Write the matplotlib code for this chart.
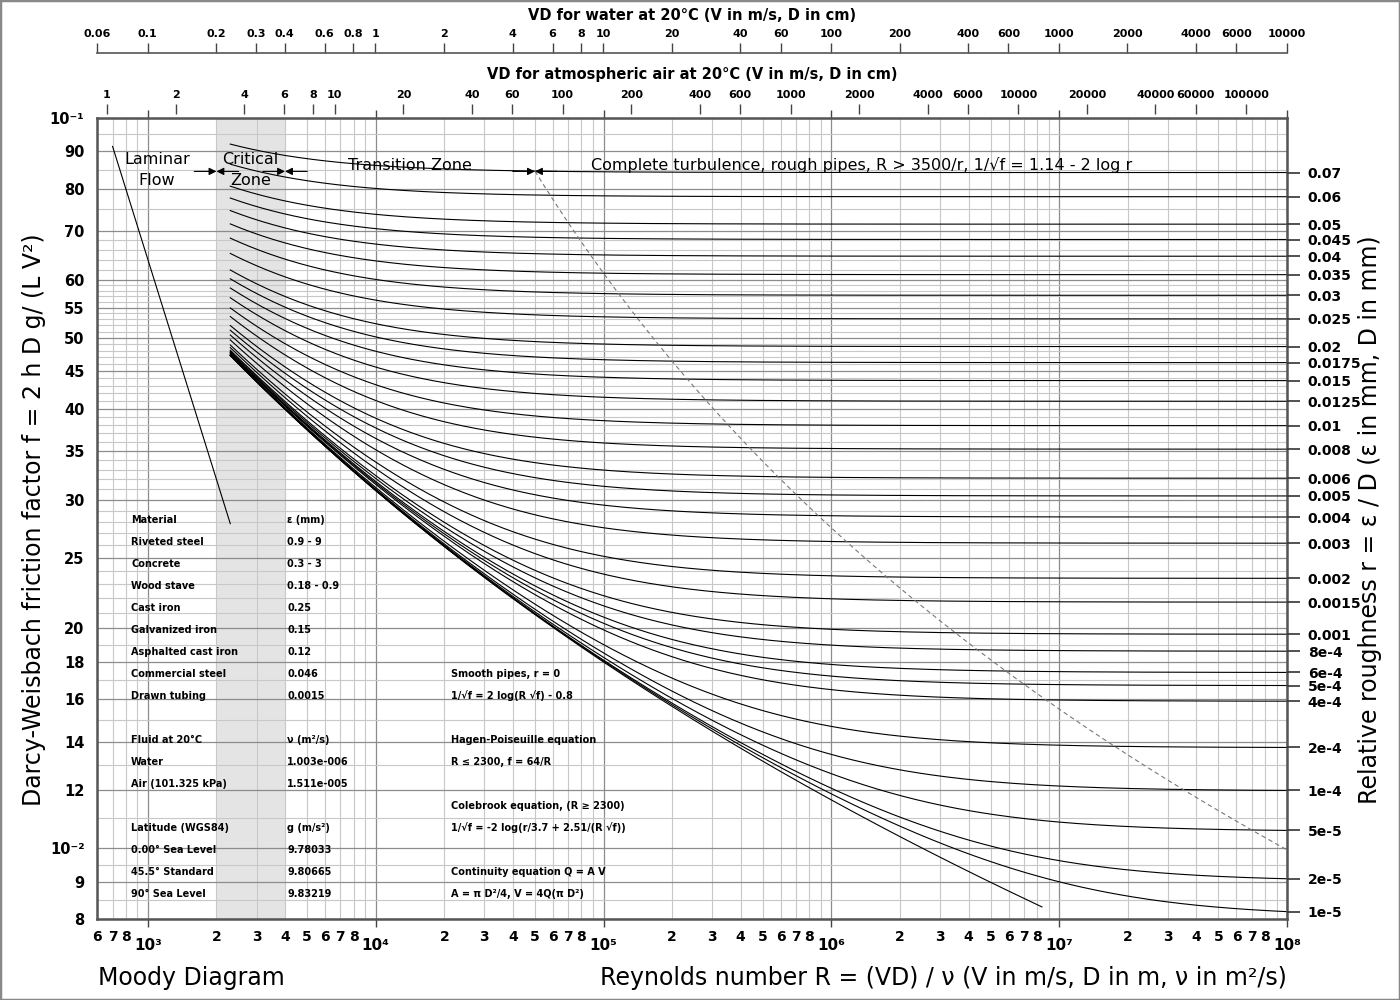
import numpy as np
import matplotlib
matplotlib.use('Agg')
import matplotlib.pyplot as plt
from matplotlib import ticker
from matplotlib.patches import Rectangle

# relative roughness r of the drawn curves, top to bottom
roughness = [0.07, 0.06, 0.05, 0.045, 0.04, 0.035, 0.03, 0.025, 0.02, 0.0175,
             0.015, 0.0125, 0.01, 0.008, 0.006, 0.005, 0.004, 0.003, 0.002,
             0.0015, 0.001, 8e-4, 6e-4, 5e-4, 4e-4, 2e-4, 1e-4, 5e-5, 2e-5, 1e-5]
roughness_labels = ['0.07', '0.06', '0.05', '0.045', '0.04', '0.035', '0.03',
                    '0.025', '0.02', '0.0175', '0.015', '0.0125', '0.01', '0.008',
                    '0.006', '0.005', '0.004', '0.003', '0.002', '0.0015', '0.001',
                    '8e-4', '6e-4', '5e-4', '4e-4', '2e-4', '1e-4', '5e-5', '2e-5', '1e-5']

R_min, R_max = 598, 1e8
laminar_R = [700, 2300]
turb_start = 2300
critical_zone = (2000, 4000)
smooth_end = 8.4e6
rough_limit = 3500          # complete turbulence for R > 3500/r
f_min, f_max = 0.008, 0.1

nu_water = 1.003e-6
nu_air = 1.511e-5

f_ticks = [0.1, 0.09, 0.08, 0.07, 0.06, 0.055, 0.05, 0.045, 0.04, 0.035, 0.03,
           0.025, 0.02, 0.018, 0.016, 0.014, 0.012, 0.01, 0.009, 0.008]
f_tick_labels = ['10⁻¹', '90', '80', '70', '60', '55', '50', '45', '40', '35', '30',
                 '25', '20', '18', '16', '14', '12', '10⁻²', '9', '8']
# light horizontal grid between the labelled values
f_minor = ([0.0085, 0.0095, 0.011, 0.013, 0.015, 0.017, 0.019]
           + [k / 1000 for k in range(21, 60)]
           + [0.062, 0.064, 0.066, 0.068, 0.075, 0.085, 0.095])

water_ticks = [0.06, 0.1, 0.2, 0.3, 0.4, 0.6, 0.8, 1, 2, 4, 6, 8, 10, 20, 40, 60,
               100, 200, 400, 600, 1000, 2000, 4000, 6000, 10000]
air_ticks = [1, 2, 4, 6, 8, 10, 20, 40, 60, 100, 200, 400, 600, 1000, 2000, 4000,
             6000, 10000, 20000, 40000, 60000, 100000]

table_rows = [
    ('Material', 'ε (mm)', ''),
    ('Riveted steel', '0.9 - 9', ''),
    ('Concrete', '0.3 - 3', ''),
    ('Wood stave', '0.18 - 0.9', ''),
    ('Cast iron', '0.25', ''),
    ('Galvanized iron', '0.15', ''),
    ('Asphalted cast iron', '0.12', ''),
    ('Commercial steel', '0.046', 'Smooth pipes, r = 0'),
    ('Drawn tubing', '0.0015', '1/√f = 2 log(R √f) - 0.8'),
    ('', '', ''),
    ('Fluid at 20°C', 'ν (m²/s)', 'Hagen-Poiseuille equation'),
    ('Water', '1.003e-006', 'R ≤ 2300, f = 64/R'),
    ('Air (101.325 kPa)', '1.511e-005', ''),
    ('', '', 'Colebrook equation, (R ≥ 2300)'),
    ('Latitude (WGS84)', 'g (m/s²)', '1/√f = -2 log(r/3.7 + 2.51/(R √f))'),
    ('0.00° Sea Level', '9.78033', ''),
    ('45.5° Standard', '9.80665', 'Continuity equation Q = A V'),
    ('90° Sea Level', '9.83219', 'A = π D²/4, V = 4Q(π D²)'),
]


def colebrook(r, R):
    x = np.full(np.shape(R), 8.0)
    for _ in range(80):
        x = -2 * np.log10(np.asarray(r) / 3.7 + 2.51 * x / R)
    return 1 / x**2


fig = plt.figure(figsize=(14, 10), dpi=100)
ax = fig.add_axes([97/1400, 81/1000, 1190/1400, 801/1000])
ax.set_xscale('log')
ax.set_yscale('log')
ax.set_xlim(R_min, R_max)
ax.set_ylim(f_min, f_max)

ax.axvspan(*critical_zone, color='#e4e4e4', lw=0, zorder=0.2)

# laminar
lam = np.array(laminar_R, dtype=float)
ax.plot(lam, 64 / lam, color='black', lw=0.8)

# turbulent curves
R = np.geomspace(turb_start, R_max, 400)
for r in roughness:
    ax.plot(R, colebrook(r, R), color='black', lw=0.8)
Rs = np.geomspace(turb_start, smooth_end, 400)
ax.plot(Rs, colebrook(0.0, Rs), color='black', lw=0.8)

# boundary of complete turbulence
rr = np.geomspace(roughness[0], rough_limit / R_max, 300)
ax.plot(rough_limit / rr, colebrook(rr, rough_limit / rr), color='#777777',
        lw=0.8, ls=(0, (4, 3)))

# x ticks
sup = str.maketrans('0123456789-', '⁰¹²³⁴⁵⁶⁷⁸⁹⁻')
decades = [10.0**n for n in range(3, 9)]
ax.set_xticks(decades, labels=['10' + str(n).translate(sup) for n in range(3, 9)],
              fontsize=11, fontweight='bold')
minor_pos, minor_lab = [], []
for n in range(2, 8):
    for k in range(2, 10):
        v = k * 10.0**n
        if R_min <= v <= R_max:
            minor_pos.append(v)
            minor_lab.append('' if k == 9 else str(k))
ax.set_xticks(minor_pos, labels=minor_lab, minor=True, fontsize=10, fontweight='bold')
ax.tick_params(axis='x', which='major', length=6, width=1, color='#444', pad=8,
               top=True)
ax.tick_params(axis='x', which='minor', length=0, pad=8)

# y ticks
ax.set_yticks(f_ticks, labels=f_tick_labels, fontsize=10.5, fontweight='bold')
ax.yaxis.set_minor_locator(ticker.FixedLocator(f_minor))
ax.yaxis.set_minor_formatter(ticker.NullFormatter())
ax.tick_params(axis='y', which='both', length=0, pad=9)

ax.set_axisbelow(True)
ax.grid(which='major', color='#8c8c8c', lw=0.9)
ax.grid(which='minor', color='#c8c8c8', lw=0.8)
for s in ax.spines.values():
    s.set_color('#555555')
    s.set_linewidth(1.8)

# right axis: relative roughness at R_max
f_end = colebrook(np.array(roughness), np.full(len(roughness), R_max))
twin = ax.twinx()
twin.set_yscale('log')
twin.set_ylim(f_min, f_max)
twin.set_yticks(f_end, labels=roughness_labels, fontsize=10, fontweight='bold')
twin.yaxis.set_minor_locator(ticker.NullLocator())
twin.tick_params(axis='y', length=9, width=1.2, color='#333', pad=6)
for s in twin.spines.values():
    s.set_visible(False)

# top axes: VD for water and air
water = ax.secondary_xaxis(1.081, functions=(lambda x: x * nu_water * 100,
                                             lambda v: v / (nu_water * 100)))
water.set_xticks(water_ticks, labels=[f'{t:g}' for t in water_ticks],
                 fontsize=8, fontweight='bold')
water.xaxis.set_minor_locator(ticker.NullLocator())
water.tick_params(axis='x', length=7, width=1, color='#444', pad=3)
water.spines['top'].set_color('#555555')
water.spines['top'].set_linewidth(1.2)

air = ax.secondary_xaxis(1.005, functions=(lambda x: x * nu_air * 100,
                                           lambda v: v / (nu_air * 100)))
air.set_xticks(air_ticks, labels=[f'{t:g}' for t in air_ticks],
               fontsize=8, fontweight='bold')
air.xaxis.set_minor_locator(ticker.NullLocator())
air.tick_params(axis='x', length=7, width=1, color='#444', pad=3)
air.spines['top'].set_visible(False)

# zone annotations
arrow_f = 0.0845
for xb in [critical_zone[0], critical_zone[1], rough_limit / roughness[0]]:
    for dx in (-16, 16):
        ax.annotate('', xy=(xb, arrow_f), xytext=(dx, 0), textcoords='offset points',
                    arrowprops=dict(arrowstyle='-|>', color='black', lw=0.8,
                                    mutation_scale=11, shrinkA=0, shrinkB=0))
ax.text(1095, 0.0849, 'Laminar\nFlow', ha='center', va='center', fontsize=11.5,
        linespacing=1.5)
ax.text(2828, 0.0849, 'Critical\nZone', ha='center', va='center', fontsize=11.5,
        linespacing=1.5)
ax.text(14142, 0.0862, 'Transition Zone', ha='center', va='center', fontsize=11.5)
ax.text(8.8e4, 0.0862, 'Complete turbulence, rough pipes, R > 3500/r, 1/√f = 1.14 - 2 log r',
        ha='left', va='center', fontsize=11.5)

# material / constants table
col_x = [(131 - 97) / 1190, (287 - 97) / 1190, (451 - 97) / 1190]
for i, row in enumerate(table_rows):
    y = (919 - (520 + 22 * i)) / 801
    for cx, txt in zip(col_x, row):
        if txt:
            ax.text(cx, y, txt, transform=ax.transAxes, ha='left', va='center',
                    fontsize=7, fontweight='bold')

# titles and axis labels
fig.text(692/1400, 1 - 15/1000, 'VD for water at 20°C (V in m/s, D in cm)',
         ha='center', va='center', fontsize=10.5, fontweight='bold')
fig.text(692/1400, 1 - 75/1000, 'VD for atmospheric air at 20°C (V in m/s, D in cm)',
         ha='center', va='center', fontsize=10.5, fontweight='bold')
fig.text(34/1400, 1 - 520/1000, 'Darcy-Weisbach friction factor f = 2 h D g/ (L V²)',
         rotation=90, ha='center', va='center', fontsize=17)
fig.text(1370/1400, 1 - 520/1000, 'Relative roughness r = ε / D (ε in mm, D in mm)',
         rotation=90, ha='center', va='center', fontsize=17)
fig.text(98/1400, 1 - 978/1000, 'Moody Diagram', ha='left', va='center', fontsize=17)
fig.text(1287/1400, 1 - 978/1000,
         'Reynolds number R = (VD) / ν (V in m/s, D in m, ν in m²/s)',
         ha='right', va='center', fontsize=17)

fig.patches.append(Rectangle((0, 0), 1, 1, transform=fig.transFigure, fill=False,
                             edgecolor='#888888', lw=2.5))

plt.savefig('out.png', dpi=100)
